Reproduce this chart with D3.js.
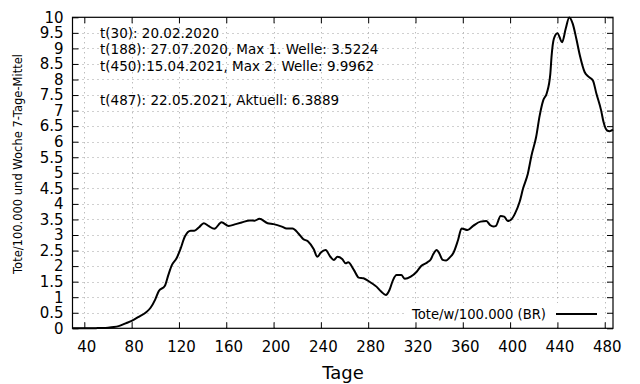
<!DOCTYPE html>
<html>
<head>
<meta charset="utf-8">
<script src="https://cdn.jsdelivr.net/npm/d3@7"></script>
<style>
	body { margin: 0; background: #fff; }
	svg { display: block; font-family: "DejaVu Sans", sans-serif; }
</style>
</head>
<body>
<svg id="chart" width="640" height="384"></svg>
<script>
// Tote/100.000 und Woche, 7-Tage-Mittel
const days = [30, 40, 50, 55, 60, 65, 69, 75, 80, 86, 92, 96, 100, 103, 108, 111, 114, 118, 121, 125,
	130, 133, 137, 141, 145, 150, 156, 162, 168, 173, 180, 184, 188, 195, 200, 207, 211, 216, 221, 225,
	229, 234, 237, 240, 244, 248, 251, 254, 258, 261, 263, 268, 272, 276, 279, 283, 287, 291, 295, 298,
	301, 304, 308, 311, 316, 321, 325, 330, 333, 335, 338, 340, 343, 346, 349, 352, 356, 359, 364, 369,
	375, 380, 383, 386, 388, 392, 395, 398, 401, 404, 408, 411, 415, 418, 422, 425, 428, 431, 434, 435,
	437, 440, 444, 447, 450, 453, 456, 459, 463, 466, 470, 473, 477, 479, 482, 484, 487];
const deaths = [0, 0, 0.005, 0.01, 0.02, 0.04, 0.07, 0.16, 0.24, 0.37, 0.51, 0.66, 0.93, 1.2, 1.36, 1.71, 2.03, 2.25, 2.52, 2.95,
	3.14, 3.14, 3.25, 3.38, 3.29, 3.2, 3.41, 3.29, 3.35, 3.4, 3.47, 3.46, 3.52, 3.38, 3.35, 3.27, 3.21, 3.21, 3.05, 2.87,
	2.8, 2.54, 2.3, 2.44, 2.52, 2.3, 2.2, 2.3, 2.23, 2.09, 2.12, 1.87, 1.63, 1.61, 1.55, 1.45, 1.34, 1.18, 1.07, 1.23,
	1.55, 1.71, 1.71, 1.59, 1.66, 1.82, 2.01, 2.12, 2.22, 2.38, 2.52, 2.42, 2.2, 2.18, 2.28, 2.42, 2.84, 3.21, 3.16, 3.3,
	3.43, 3.45, 3.32, 3.27, 3.29, 3.61, 3.59, 3.45, 3.5, 3.68, 4.06, 4.5, 4.97, 5.54, 6.15, 6.84, 7.33, 7.56, 8.18, 8.72,
	9.31, 9.49, 9.2, 9.63, 9.9962, 9.79, 9.31, 8.77, 8.24, 8.1, 7.97, 7.54, 7.0, 6.63, 6.36, 6.34, 6.3889];

const xTicks = [40, 80, 120, 160, 200, 240, 280, 320, 360, 400, 440, 480];
const yTicks = [0, 0.5, 1, 1.5, 2, 2.5, 3, 3.5, 4, 4.5, 5, 5.5, 6, 6.5, 7, 7.5, 8, 8.5, 9, 9.5, 10];
const notes = [
	"t(30): 20.02.2020",
	"t(188): 27.07.2020, Max 1. Welle: 3.5224",
	"t(450):15.04.2021, Max 2. Welle: 9.9962",
	"",
	"t(487): 22.05.2021, Aktuell: 6.3889"
];
const legendLabel = "Tote/w/100.000 (BR)";

const svg = d3.select("#chart");
const plotL = 72.5, plotR = 613, plotT = 17.3, plotB = 328.3;

const x = d3.scaleLinear().domain([30, 487]).range([plotL, plotR]);
const y = d3.scaleLinear().domain([0, 10]).range([plotB, plotT]);

// grid
const grid = svg.append("g")
	.attr("stroke", "#a0a0a0")
	.attr("stroke-width", 1)
	.attr("stroke-dasharray", "1,4");
grid.selectAll(".gx").data(xTicks).join("line")
	.attr("x1", d => Math.round(x(d)) + 0.5).attr("x2", d => Math.round(x(d)) + 0.5)
	.attr("y1", plotT).attr("y2", plotB);
grid.selectAll(".gy").data(yTicks.filter(d => d > 0 && d < 10)).join("line")
	.attr("y1", d => Math.round(y(d)) + 0.5).attr("y2", d => Math.round(y(d)) + 0.5)
	.attr("x1", plotL).attr("x2", plotR);

// legend box clears the grid behind it
svg.append("rect")
	.attr("x", 405).attr("y", 303).attr("width", 200).attr("height", 22)
	.attr("fill", "#fff");

// axes with inward ticks, mirrored on top and right
const axisStyle = g => {
	g.select(".domain").remove();
	g.selectAll(".tick line").attr("stroke", "#000");
	g.selectAll(".tick text").attr("fill", "#000").attr("font-size", 15)
		.attr("font-family", "DejaVu Sans, sans-serif");
};
svg.append("g").attr("transform", `translate(0,${plotB})`)
	.call(d3.axisBottom(x).tickValues(xTicks).tickSizeInner(-6).tickPadding(13))
	.call(axisStyle)
	.call(g => g.selectAll(".tick text").attr("dx", 2));
svg.append("g").attr("transform", `translate(0,${plotT})`)
	.call(d3.axisTop(x).tickValues(xTicks).tickSizeInner(-6).tickFormat(""))
	.call(axisStyle);
svg.append("g").attr("transform", `translate(${plotL},0)`)
	.call(d3.axisLeft(y).tickValues(yTicks).tickSizeInner(-6).tickPadding(9)
		.tickFormat(d => String(d)))
	.call(axisStyle);
svg.append("g").attr("transform", `translate(${plotR},0)`)
	.call(d3.axisRight(y).tickValues(yTicks).tickSizeInner(-6).tickFormat(""))
	.call(axisStyle);

// border
svg.append("rect")
	.attr("x", plotL).attr("y", plotT)
	.attr("width", plotR - plotL).attr("height", plotB - plotT)
	.attr("fill", "none").attr("stroke", "#000").attr("stroke-width", 1.2);

// curve
const pts = days.map((d, i) => [d, deaths[i]]);
const line = d3.line()
	.x(d => x(d[0]))
	.y(d => y(d[1]))
	.curve(d3.curveMonotoneX);
svg.append("path")
	.datum(pts)
	.attr("d", line)
	.attr("fill", "none")
	.attr("stroke", "#000")
	.attr("stroke-width", 2)
	.attr("stroke-linejoin", "round");

// annotations
svg.append("g").selectAll("text").data(notes).join("text")
	.attr("x", 100)
	.attr("y", (d, i) => 37.5 + i * 16.9)
	.attr("font-size", 13.5)
	.text(d => d);

// legend
svg.append("text")
	.attr("x", 546).attr("y", 318.5)
	.attr("text-anchor", "end")
	.attr("font-size", 13.2)
	.text(legendLabel);
svg.append("line")
	.attr("x1", 556).attr("x2", 597)
	.attr("y1", 314).attr("y2", 314)
	.attr("stroke", "#000").attr("stroke-width", 2);

// axis titles
svg.append("text")
	.attr("transform", "translate(21.5,164) rotate(-90)")
	.attr("text-anchor", "middle")
	.attr("font-size", 11.5)
	.text("Tote/100.000 und Woche 7-Tage-Mittel");
svg.append("text")
	.attr("x", 343).attr("y", 379)
	.attr("text-anchor", "middle")
	.attr("font-size", 18)
	.text("Tage");
</script>
</body>
</html>
